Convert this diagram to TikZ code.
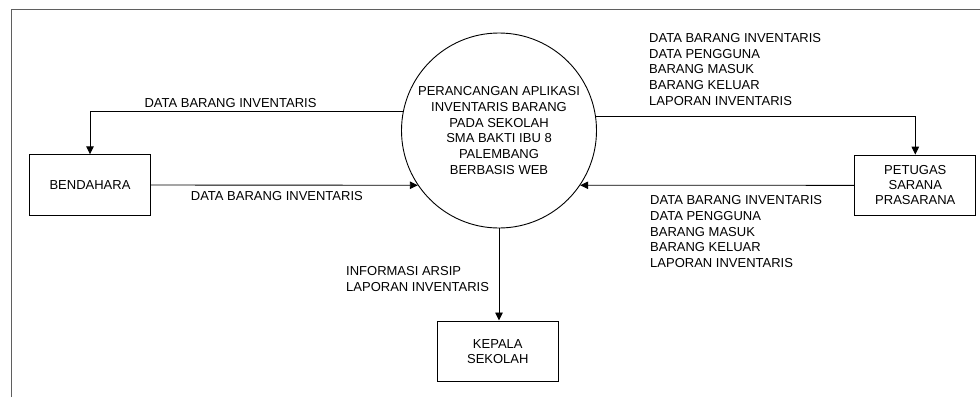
\documentclass[tikz,border=0pt]{standalone}
\usepackage{fontspec}
\setmainfont{Liberation Sans}
\usetikzlibrary{arrows.meta}
\definecolor{framegray}{RGB}{95,95,95}
\begin{document}
\begin{tikzpicture}[x=1pt,y=-1pt,
  lbl/.style={font=\fontsize{13}{15.8}\selectfont, align=left, inner sep=0pt, anchor=west},
  entity/.style={draw, line width=0.9pt, minimum width=121pt, minimum height=60.5pt, align=center, inner sep=0pt, font=\fontsize{13}{15}\selectfont},
  proc/.style={draw, line width=0.9pt, circle, minimum size=195pt, inner sep=0pt, align=center, font=\fontsize{13}{15.7}\selectfont},
  flow/.style={draw, line width=0.9pt, -{Triangle[length=8pt,width=7.5pt]}},
  frameline/.style={draw=framegray, line width=1.5pt}
]
\useasboundingbox (0,0) rectangle (980,397);
\coordinate (fbl) at (11.7,397);
\coordinate (ftl) at (11.7,9.7);
\coordinate (ftr) at (980,9.7);
\draw[frameline] (fbl) -- (ftl) -- (ftr);

\node[proc] (P) at (499,130.5) {PERANCANGAN APLIKASI\\INVENTARIS BARANG\\PADA SEKOLAH\\SMA BAKTI IBU 8\\PALEMBANG\\BERBASIS WEB};
\node[entity] (B) at (90,185) {BENDAHARA};
\node[entity] (S) at (915.3,185.3) {PETUGAS\\SARANA\\PRASARANA};
\node[entity] (K) at (497.8,351.2) {KEPALA\\SEKOLAH};

\draw[flow] (P.169.2) -| (B.north);
\draw[flow] (B.east) -- (P.214);
\draw[flow] (P.8.1) -| (S.north);
\draw[flow] (S.west) -- (P.326);
\draw[flow] (P.south) -- (P.south |- K.north);

\node[lbl] (l1) at (144.3,103.3) {DATA BARANG INVENTARIS};
\node[lbl] (l2) at (190.7,195.7) {DATA BARANG INVENTARIS};
\node[lbl] (l3) at (649,69.5) {DATA BARANG INVENTARIS\\DATA PENGGUNA\\BARANG MASUK\\BARANG KELUAR\\LAPORAN INVENTARIS};
\node[lbl] (l4) at (650,231.7) {DATA BARANG INVENTARIS\\DATA PENGGUNA\\BARANG MASUK\\BARANG KELUAR\\LAPORAN INVENTARIS};
\node[lbl] (l5) at (346,278.8) {INFORMASI ARSIP\\LAPORAN INVENTARIS};
\end{tikzpicture}
\end{document}
